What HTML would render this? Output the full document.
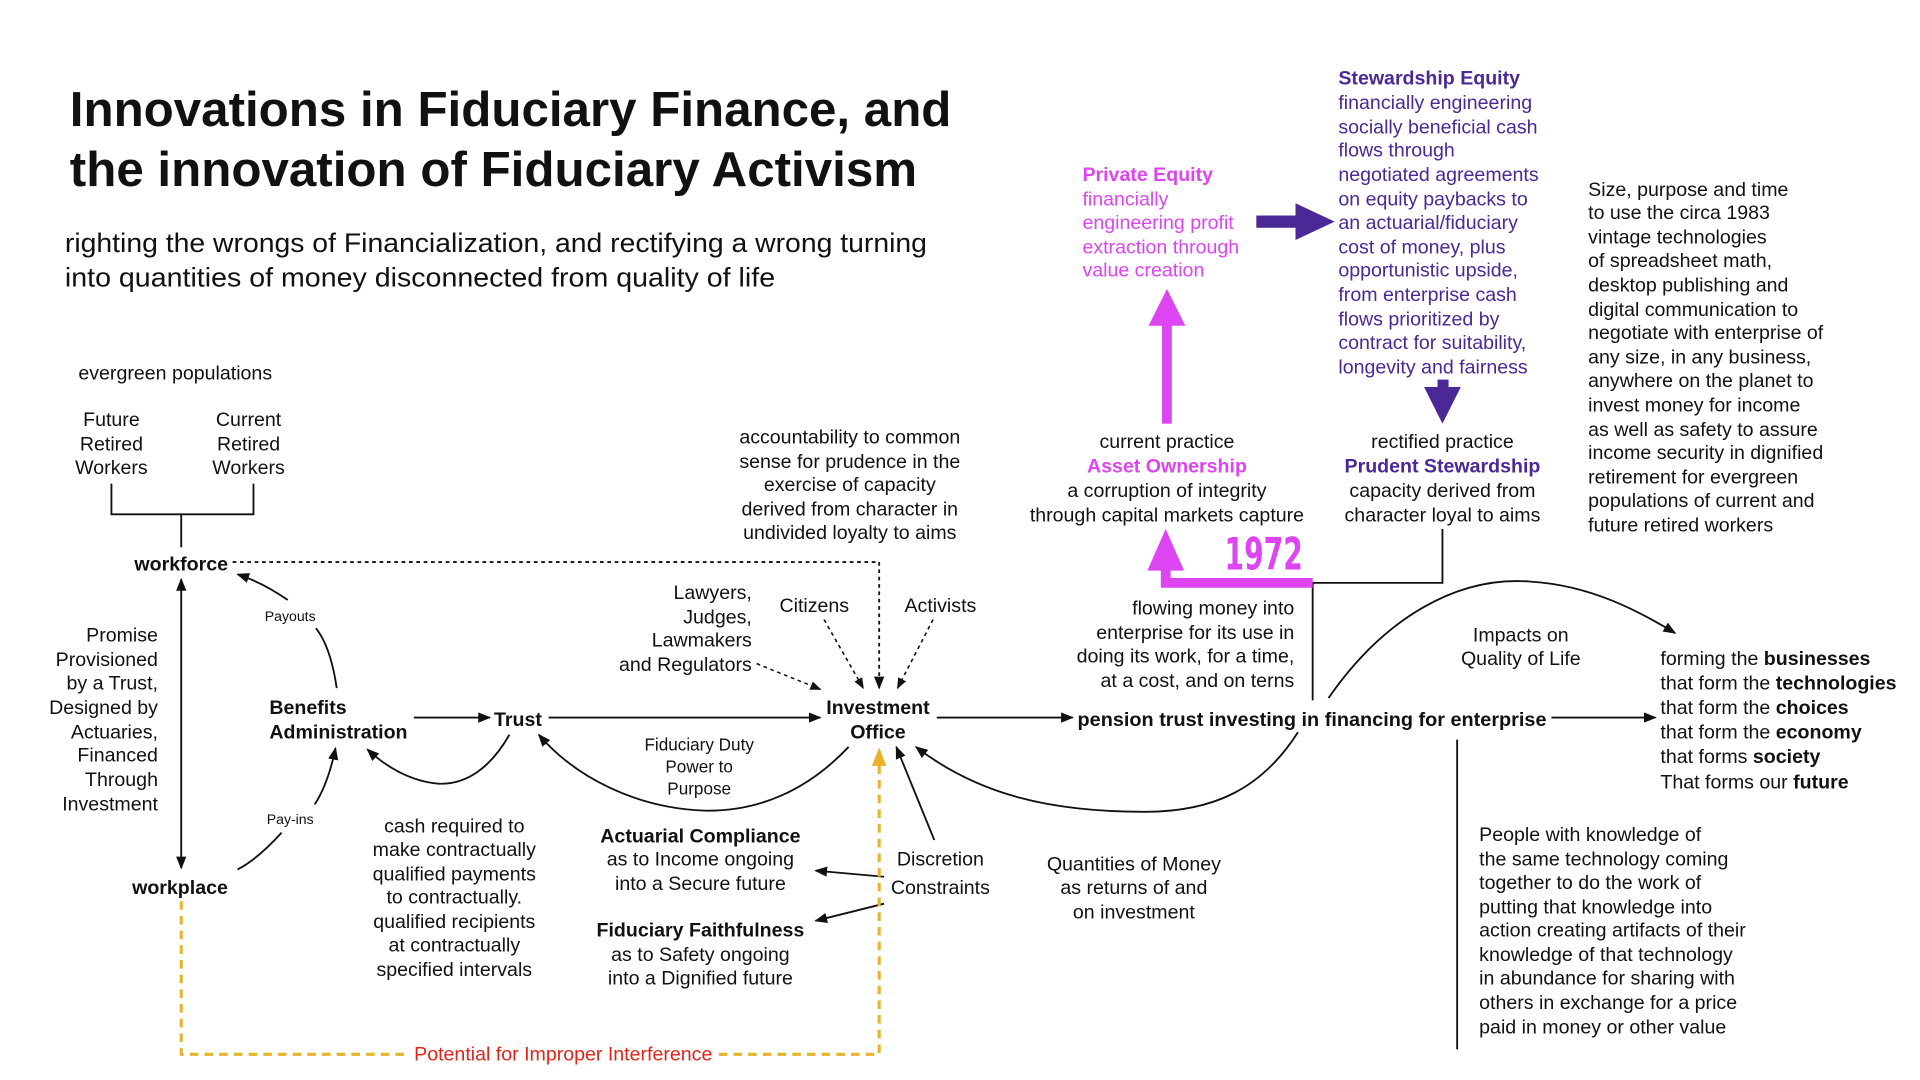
<!DOCTYPE html>
<html><head><meta charset="utf-8"><style>
html,body{margin:0;padding:0;background:#fff;}
svg{display:block;}
text{font-family:"Liberation Sans",Arial,sans-serif;font-size:16px;fill:#111;}
.b{font-weight:bold;}
.m{fill:#DD44F2;}
.p{fill:#4A2896;}
.s{font-size:11.5px;}
.c{text-anchor:middle;}
.r{text-anchor:end;}
</style></head><body>
<svg width="1920" height="1080" viewBox="0 0 1568 882" xmlns="http://www.w3.org/2000/svg">
<defs>
<marker id="a" viewBox="0 0 10 10" refX="9" refY="5" markerWidth="7" markerHeight="7" orient="auto-start-reverse"><path d="M0,1 L10,5 L0,9 z" fill="#111"/></marker>
<marker id="y" viewBox="0 0 10 10" refX="9" refY="5" markerWidth="6" markerHeight="6" orient="auto"><path d="M0,1 L10,5 L0,9 z" fill="#E8B32A"/></marker>
</defs>
<rect width="1568" height="882" fill="#fff"/>

<text x="57" y="103" class="b" style="font-size:40px" textLength="720" lengthAdjust="spacingAndGlyphs">Innovations in Fiduciary Finance, and</text>
<text x="57" y="152" class="b" style="font-size:40px" textLength="692" lengthAdjust="spacingAndGlyphs">the innovation of Fiduciary Activism</text>
<text x="53" y="206" style="font-size:22px" textLength="704" lengthAdjust="spacingAndGlyphs">righting the wrongs of Financialization, and rectifying a wrong turning</text>
<text x="53" y="234" style="font-size:22px" textLength="580" lengthAdjust="spacingAndGlyphs">into quantities of money disconnected from quality of life</text>

<text x="64" y="310">evergreen populations</text>
<text x="91" y="348" class="c">Future</text><text x="91" y="368" class="c">Retired</text><text x="91" y="387" class="c">Workers</text>
<text x="203" y="348" class="c">Current</text><text x="203" y="368" class="c">Retired</text><text x="203" y="387" class="c">Workers</text>
<path d="M91,395 V420 H207 V395 M148,420 V447" fill="none" stroke="#111" stroke-width="1.5"/>
<text x="148" y="466" class="b c">workforce</text>
<path d="M190,459 H718 V562" fill="none" stroke="#111" stroke-width="1.5" stroke-dasharray="3,3" marker-end="url(#a)"/>
<line x1="148" y1="473" x2="148" y2="709" stroke="#111" stroke-width="1.5" marker-start="url(#a)" marker-end="url(#a)"/>
<text x="147" y="730" class="b c">workplace</text>
<text x="129" y="524" class="r">Promise</text><text x="129" y="544" class="r">Provisioned</text><text x="129" y="563" class="r">by a Trust,</text><text x="129" y="583" class="r">Designed by</text><text x="129" y="603" class="r">Actuaries,</text><text x="129" y="622" class="r">Financed</text><text x="129" y="642" class="r">Through</text><text x="129" y="662" class="r">Investment</text>

<path d="M275,562 Q270,528 258,513" fill="none" stroke="#111" stroke-width="1.5"/>
<path d="M235,490 Q215,476 194,469" fill="none" stroke="#111" stroke-width="1.5" marker-end="url(#a)"/>
<text x="237" y="507" class="s c">Payouts</text>
<path d="M230,680 Q210,702 194,710" fill="none" stroke="#111" stroke-width="1.5"/>
<path d="M257,657 Q268,640 274,611" fill="none" stroke="#111" stroke-width="1.5" marker-end="url(#a)"/>
<text x="237" y="673" class="s c">Pay-ins</text>

<text x="220" y="583" class="b">Benefits</text>
<text x="220" y="603" class="b">Administration</text>
<line x1="338" y1="586" x2="400" y2="586" stroke="#111" stroke-width="1.5" marker-end="url(#a)"/>
<text x="423" y="593" class="b c">Trust</text>
<line x1="448" y1="586" x2="670" y2="586" stroke="#111" stroke-width="1.5" marker-end="url(#a)"/>
<text x="717" y="583" class="b c">Investment</text>
<text x="717" y="603" class="b c">Office</text>
<path d="M416,600 C400,628 380,641 358,640 C335,638 315,626 300,612" fill="none" stroke="#111" stroke-width="1.5" marker-end="url(#a)"/>
<path d="M693,610 C660,645 620,663 575,662 C520,660 470,635 440,600" fill="none" stroke="#111" stroke-width="1.5" marker-end="url(#a)"/>
<text x="571" y="613" class="c" style="font-size:14px">Fiduciary Duty</text>
<text x="571" y="631" class="c" style="font-size:14px">Power to</text>
<text x="571" y="649" class="c" style="font-size:14px">Purpose</text>

<text x="371" y="680" class="c">cash required to</text><text x="371" y="699" class="c">make contractually</text><text x="371" y="719" class="c">qualified payments</text><text x="371" y="738" class="c">to contractually.</text><text x="371" y="758" class="c">qualified recipients</text><text x="371" y="777" class="c">at contractually</text><text x="371" y="797" class="c">specified intervals</text>

<text x="572" y="688" class="b c">Actuarial Compliance</text>
<text x="572" y="707" class="c">as to Income ongoing</text>
<text x="572" y="727" class="c">into a Secure future</text>
<text x="572" y="765" class="b c">Fiduciary Faithfulness</text>
<text x="572" y="785" class="c">as to Safety ongoing</text>
<text x="572" y="804" class="c">into a Dignified future</text>
<text x="768" y="707" class="c">Discretion</text>
<text x="768" y="730" class="c">Constraints</text>
<line x1="722" y1="716" x2="666" y2="711" stroke="#111" stroke-width="1.5" marker-end="url(#a)"/>
<line x1="722" y1="738" x2="666" y2="752" stroke="#111" stroke-width="1.5" marker-end="url(#a)"/>
<line x1="763" y1="686" x2="732" y2="610" stroke="#111" stroke-width="1.5" marker-end="url(#a)"/>

<path d="M148,736 V861 H718 V612" fill="none" stroke="#E8B32A" stroke-width="2.5" stroke-dasharray="7,5" marker-end="url(#y)"/>
<rect x="333" y="851" width="254" height="20" fill="#fff"/>
<text x="460" y="866" class="c" style="fill:#E0251B">Potential for Improper Interference</text>

<text x="694" y="362" class="c">accountability to common</text><text x="694" y="382" class="c">sense for prudence in the</text><text x="694" y="401" class="c">exercise of capacity</text><text x="694" y="421" class="c">derived from character in</text><text x="694" y="440" class="c">undivided loyalty to aims</text>
<text x="614" y="489" class="r">Lawyers,</text><text x="614" y="509" class="r">Judges,</text><text x="614" y="528" class="r">Lawmakers</text><text x="614" y="548" class="r">and Regulators</text>
<text x="665" y="500" class="c">Citizens</text>
<text x="768" y="500" class="c">Activists</text>
<line x1="618" y1="542" x2="670" y2="563" stroke="#111" stroke-width="1.3" stroke-dasharray="3,3" marker-end="url(#a)"/>
<line x1="673" y1="506" x2="705" y2="562" stroke="#111" stroke-width="1.3" stroke-dasharray="3,3" marker-end="url(#a)"/>
<line x1="762" y1="506" x2="733" y2="562" stroke="#111" stroke-width="1.3" stroke-dasharray="3,3" marker-end="url(#a)"/>

<line x1="765" y1="586" x2="876" y2="586" stroke="#111" stroke-width="1.5" marker-end="url(#a)"/>
<text x="880" y="593" class="b" textLength="383" lengthAdjust="spacingAndGlyphs">pension trust investing in financing for enterprise</text>
<line x1="1267" y1="586" x2="1352" y2="586" stroke="#111" stroke-width="1.5" marker-end="url(#a)"/>
<text x="1356" y="543">forming the <tspan class="b">businesses</tspan></text>
<text x="1356" y="563">that form the <tspan class="b">technologies</tspan></text>
<text x="1356" y="583">that form the <tspan class="b">choices</tspan></text>
<text x="1356" y="603">that form the <tspan class="b">economy</tspan></text>
<text x="1356" y="623">that forms <tspan class="b">society</tspan></text>
<text x="1356" y="644">That forms our <tspan class="b">future</tspan></text>
<text x="1242" y="524" class="c">Impacts on</text>
<text x="1242" y="543" class="c">Quality of Life</text>
<path d="M1085,570 C1130,505 1190,470 1250,475 C1300,478 1340,500 1368,517" fill="none" stroke="#111" stroke-width="1.5" marker-end="url(#a)"/>
<path d="M1060,598 C1030,645 990,663 935,663 C860,663 800,650 748,610" fill="none" stroke="#111" stroke-width="1.5" marker-end="url(#a)"/>
<text x="926" y="711" class="c">Quantities of Money</text>
<text x="926" y="730" class="c">as returns of and</text>
<text x="926" y="750" class="c">on investment</text>
<text x="1057" y="502" class="r">flowing money into</text><text x="1057" y="522" class="r">enterprise for its use in</text><text x="1057" y="541" class="r">doing its work, for a time,</text><text x="1057" y="561" class="r">at a cost, and on terns</text>
<path d="M1072,572 V476 H1178 V432" fill="none" stroke="#111" stroke-width="1.5"/>

<path d="M1072,476 H952 V462" fill="none" stroke="#DD44F2" stroke-width="8"/>
<path d="M937,466 L952,432 L967,466 z" fill="#DD44F2"/>
<text x="1032" y="465" class="b c m" style="font-size:36px;font-family:'DejaVu Sans Condensed','Liberation Sans Narrow',sans-serif" textLength="64" lengthAdjust="spacingAndGlyphs">1972</text>
<text x="953" y="366" class="c">current practice</text>
<text x="953" y="386" class="b c m">Asset Ownership</text>
<text x="953" y="406" class="c">a corruption of integrity</text>
<text x="953" y="426" class="c">through capital markets capture</text>
<rect x="949" y="262" width="8" height="84" fill="#DD44F2"/>
<path d="M938,266 L953,236 L968,266 z" fill="#DD44F2"/>
<text x="884" y="148" class="b m">Private Equity</text><text x="884" y="168" class="m">financially</text><text x="884" y="187" class="m">engineering profit</text><text x="884" y="207" class="m">extraction through</text><text x="884" y="226" class="m">value creation</text>

<rect x="1026" y="176" width="34" height="10" fill="#4A2896"/>
<path d="M1058,166 L1090,181 L1058,196 z" fill="#4A2896"/>
<text x="1093" y="69" class="b p">Stewardship Equity</text>
<text x="1093" y="89" class="p">financially engineering</text>
<text x="1093" y="109" class="p">socially beneficial cash</text>
<text x="1093" y="128" class="p">flows through</text>
<text x="1093" y="148" class="p">negotiated agreements</text>
<text x="1093" y="168" class="p">on equity paybacks to</text>
<text x="1093" y="187" class="p">an actuarial/fiduciary</text>
<text x="1093" y="207" class="p">cost of money, plus</text>
<text x="1093" y="226" class="p">opportunistic upside,</text>
<text x="1093" y="246" class="p">from enterprise cash</text>
<text x="1093" y="266" class="p">flows prioritized by</text>
<text x="1093" y="285" class="p">contract for suitability,</text>
<text x="1093" y="305" class="p">longevity and fairness</text>
<rect x="1174" y="310" width="9" height="8" fill="#4A2896"/>
<path d="M1163,316 L1178,346 L1193,316 z" fill="#4A2896"/>
<text x="1178" y="366" class="c">rectified practice</text>
<text x="1178" y="386" class="b c p">Prudent Stewardship</text>
<text x="1178" y="406" class="c">capacity derived from</text>
<text x="1178" y="426" class="c">character loyal to aims</text>

<text x="1297" y="160">Size, purpose and time</text>
<text x="1297" y="179">to use the circa 1983</text>
<text x="1297" y="199">vintage technologies</text>
<text x="1297" y="218">of spreadsheet math,</text>
<text x="1297" y="238">desktop publishing and</text>
<text x="1297" y="258">digital communication to</text>
<text x="1297" y="277">negotiate with enterprise of</text>
<text x="1297" y="297">any size, in any business,</text>
<text x="1297" y="316">anywhere on the planet to</text>
<text x="1297" y="336">invest money for income</text>
<text x="1297" y="356">as well as safety to assure</text>
<text x="1297" y="375">income security in dignified</text>
<text x="1297" y="395">retirement for evergreen</text>
<text x="1297" y="414">populations of current and</text>
<text x="1297" y="434">future retired workers</text>

<line x1="1190" y1="604" x2="1190" y2="857" stroke="#111" stroke-width="1.5"/>
<text x="1208" y="687">People with knowledge of</text>
<text x="1208" y="707">the same technology coming</text>
<text x="1208" y="726">together to do the work of</text>
<text x="1208" y="746">putting that knowledge into</text>
<text x="1208" y="765">action creating artifacts of their</text>
<text x="1208" y="785">knowledge of that technology</text>
<text x="1208" y="804">in abundance for sharing with</text>
<text x="1208" y="824">others in exchange for a price</text>
<text x="1208" y="844">paid in money or other value</text>
</svg>
</body></html>
